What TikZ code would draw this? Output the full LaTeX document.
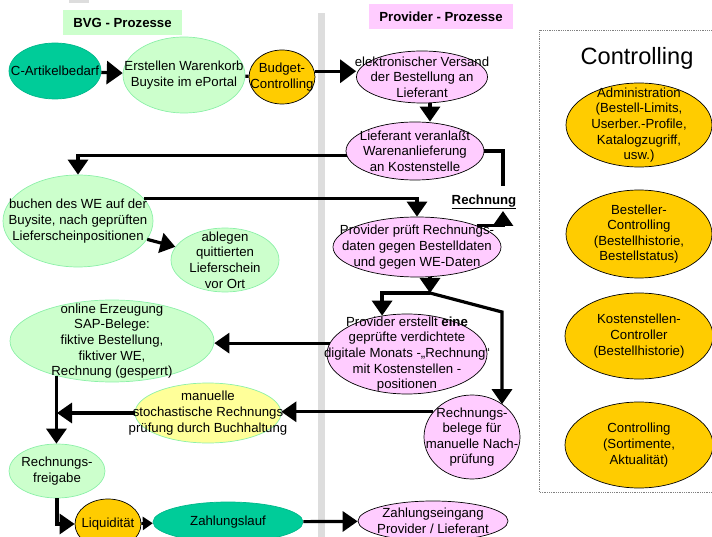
\documentclass[tikz,border=0pt]{standalone}
\usepackage{fontspec}
\setmainfont{Liberation Sans}
\usepackage{tikz}
\usetikzlibrary{
  shapes.geometric,
  arrows.meta
}
\definecolor{bvggruen}{HTML}{CCFFCC}
\definecolor{bvgrand}{HTML}{8CF0A8}
\definecolor{dunkelgruen}{HTML}{00CC99}
\definecolor{dunkelrand}{HTML}{00B88A}
\definecolor{budgetgelb}{HTML}{FFCC00}
\definecolor{provrosa}{HTML}{FFCCFF}
\definecolor{hellgelb}{HTML}{FFFF99}
\definecolor{trenngrau}{HTML}{DDDDDD}
\newcommand{\textgr}{\fontsize{13.2}{15.6}\selectfont}

\begin{document}
\begin{tikzpicture}[x=1pt,y=-1pt,%スタイル
    proz/.style 2 args={
        ellipse,
        minimum width=#1,
        minimum height=#2,
        inner sep=-100pt,
        align=center,
        line width=0.7pt,
        font=\textgr
      },
    bvg/.style={fill=bvggruen,draw=bvgrand},
    dunkel/.style={fill=dunkelgruen,draw=dunkelrand},
    ctrl/.style={fill=budgetgelb,draw=black},
    prov/.style={fill=provrosa,draw=black},
    gelb/.style={fill=hellgelb,draw=bvgrand},
    titel/.style 2 args={
        fill=#1,
        minimum width=#2,
        minimum height=25pt,
        inner sep=0pt,
        font=\textgr\bfseries
      },
    linie/.style={line width=3.2pt},
    pfeil/.style={line width=3.2pt,-{Triangle[length=15pt,width=20pt]}},
    pfeil gross/.style={line width=3.2pt,-{Triangle[length=16pt,width=23pt]}},
    pfeil klein/.style={line width=3pt,-{Triangle[length=10pt,width=13pt]}}
  ]
  \useasboundingbox (0,0) rectangle (712,537);

  % 区切り線と枠
  \fill[trenngrau] (69,0) rectangle (89,3);
  \fill[trenngrau] (318,13) rectangle (325,540);
  \draw[gray,densely dotted,line width=0.8pt] (715,30) -- (539,30) -- (539,492) -- (715,492);

  % タイトル
  \node[titel={bvggruen}{119pt}] (bvgtitel) at (122.5,22.5) {BVG - Prozesse};
  \node[titel={provrosa}{144pt}] (provtitel) at (441,16.5) {Provider - Prozesse};
  \node[font=\fontsize{23.6}{28}\selectfont] (ctrltitel) at (637,58) {Controlling};

  % BVG-Prozesse
  \node[proz={92pt}{56pt},dunkel] (bedarf) at (55,71) {C-Artikelbedarf};
  \node[proz={122pt}{76pt},bvg] (warenkorb) at (184,75) {Erstellen Warenkorb\\Buysite im ePortal};
  \node[proz={66pt}{54pt},ctrl] (budget) at (282,77) {Budget-\\Controlling};
  \node[proz={150pt}{92pt},bvg] (buchen) at (78,221) {buchen des WE auf der\\Buysite, nach geprüften\\Lieferscheinpositionen};
  \node[proz={108pt}{64pt},bvg] (ablegen) at (225,260) {ablegen\\quittierten\\Lieferschein\\vor Ort};
  \node[proz={204pt}{82pt},bvg] (erzeugung) at (112,341) {online Erzeugung\\SAP-Belege:\\fiktive Bestellung,\\fiktiver WE,\\Rechnung (gesperrt)};
  \node[proz={146pt}{60pt},gelb] (stochastik) at (208,413) {manuelle\\stochastische Rechnungs\\prüfung durch Buchhaltung};
  \node[proz={96pt}{54pt},bvg] (freigabe) at (57,471) {Rechnungs-\\freigabe};
  \node[proz={66pt}{50pt},ctrl] (liquid) at (108,524) {Liquidität};
  \node[proz={150pt}{40pt},dunkel] (zahllauf) at (228,522) {Zahlungslauf};

  % Provider-Prozesse
  \node[proz={131pt}{52pt},prov] (versand) at (422,77) {elektronischer Versand\\der Bestellung an\\Lieferant};
  \node[proz={138pt}{58pt},prov] (anlieferung) at (415,151) {Lieferant veranlaßt\\Warenanlieferung\\an Kostenstelle};
  \node[proz={168pt}{60pt},prov] (pruefung) at (417,247) {Provider prüft Rechnungs-\\daten gegen Bestelldaten\\und gegen WE-Daten};
  \node[proz={160pt}{80pt},prov] (erstellt) at (407,354) {Provider erstellt \textbf{eine}\\geprüfte verdichtete\\digitale Monats -„Rechnung“\\mit Kostenstellen -\\positionen};
  \node[proz={96pt}{84pt},prov] (belege) at (472,437) {Rechnungs-\\belege für\\manuelle Nach-\\prüfung};
  \node[proz={150pt}{40pt},prov] (eingang) at (433,521) {Zahlungseingang\\Provider / Lieferant};
  \node[font=\textgr\bfseries] (rechnung) at (484,202) {\underline{Rechnung}};

  % Controlling
  \node[proz={146pt}{84pt},ctrl] (admin) at (639,125) {Administration\\(Bestell-Limits,\\Userber.-Profile,\\Katalogzugriff,\\usw.)};
  \node[proz={146pt}{88pt},ctrl] (besteller) at (639,234) {Besteller-\\Controlling\\(Bestellhistorie,\\Bestellstatus)};
  \node[proz={148pt}{86pt},ctrl] (kostenst) at (639,336) {Kostenstellen-\\Controller\\(Bestellhistorie)};
  \node[proz={148pt}{86pt},ctrl] (sortiment) at (639,445) {Controlling\\(Sortimente,\\Aktualität)};

  % 座標の定義
  \coordinate (roben) at (503,186);
  \coordinate (runten) at (503,211);
  \coordinate (knoten) at (430,293);
  \coordinate (knick) at (502,312);

  % 矢印
  \draw[pfeil gross] (bedarf) -- (warenkorb);
  \draw[linie] (warenkorb) -- (budget);
  \draw[pfeil gross] (budget.10) -- (budget.10 -| versand.west);
  \draw[pfeil] ([xshift=8pt]versand.south) -- ([xshift=8pt]versand.south |- anlieferung.north);
  \draw[pfeil] (anlieferung.184) -| (buchen.north);
  \draw[linie] (anlieferung.east) -| (roben);
  \draw[pfeil] (pruefung.north east) -| (runten);
  \draw[pfeil] (buchen.19.5) -| (pruefung.north);
  \draw[pfeil] (buchen) -- (ablegen);
  \draw[pfeil] (pruefung.south -| knoten) -- (knoten);
  \draw[pfeil] (knoten) -| (erstellt.123);
  \draw[pfeil] (knoten) -- (knick) -- (belege.47 -| knick);
  \draw[pfeil] (erstellt.172) -- (erstellt.172 -| erzeugung.east);
  \draw[pfeil] (belege.147.5) -- (belege.147.5 -| stochastik.east);
  \draw[pfeil] (stochastik.west) -- (stochastik.west -| freigabe.north);
  \draw[pfeil] (erzeugung.212) -- (erzeugung.212 |- freigabe.north);
  \draw[pfeil] (freigabe.south) |- (liquid.west);
  \draw[pfeil klein] (liquid) -- (zahllauf);
  \draw[pfeil] (zahllauf) -- (eingang);
\end{tikzpicture}
\end{document}
